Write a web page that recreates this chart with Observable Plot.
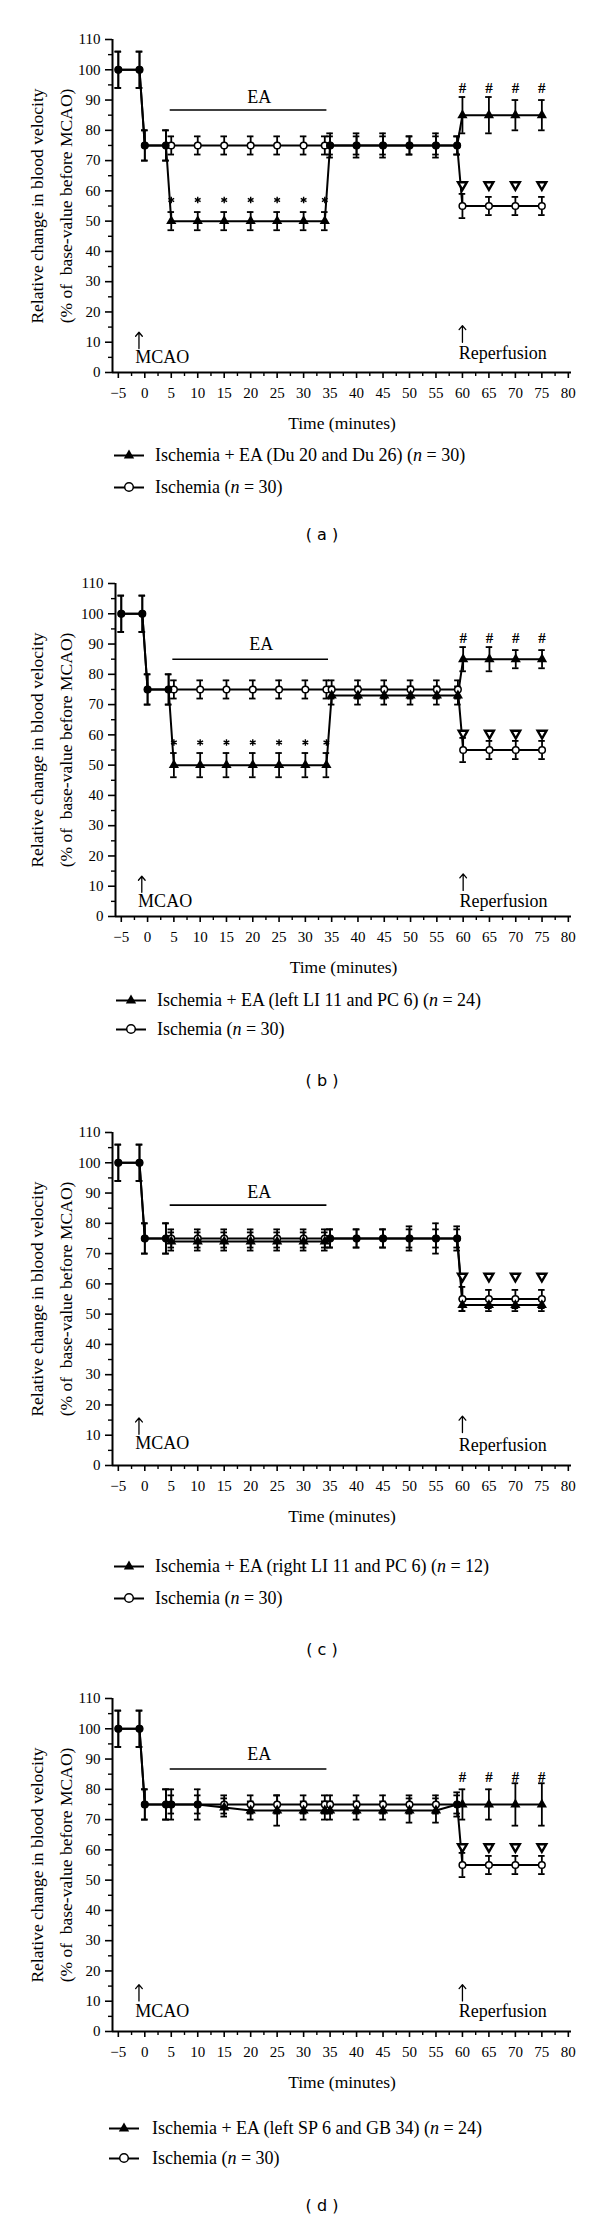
<!DOCTYPE html>
<html><head><meta charset="utf-8">
<script src="https://cdn.jsdelivr.net/npm/d3@7"></script>
<script src="https://cdn.jsdelivr.net/npm/@observablehq/plot@0.6"></script>
<style>
html,body{margin:0;padding:0;background:#fff;}
#root{position:relative;width:600px;height:2233px;overflow:hidden;font-family:"Liberation Serif","Times New Roman",serif;color:#000;}
.plot{position:absolute;left:0;}
.leg{position:absolute;height:20px;display:flex;align-items:center;font-size:18px;white-space:nowrap;line-height:1;}
.leg svg{display:block;}
.leg span{position:absolute;top:0;line-height:20px;}
.cap{position:absolute;width:120px;text-align:center;font-family:"DejaVu Sans",Verdana,sans-serif;font-size:16px;line-height:20px;}
</style></head><body><div id="root"></div>
<script>
// ---- data ----
const times = [-5,-1,0,4,5,10,15,20,25,30,34,35,40,45,50,55,59,60,65,70,75];
const ischemiaMean = [100,100,75,75,75,75,75,75,75,75,75,75,75,75,75,75,75,55,55,55,55];
const ischemiaSem  = [6,6,5,5,3,3,3,3,3,3,3,3,3,3,3,3,3,4,3,3,3];
const eaMeanA = [100,100,75,75,50,50,50,50,50,50,50,75,75,75,75,75,75,85,85,85,85];
const eaSemA  = [6,6,5,5,3,3,3,3,3,3,3,4,4,4,3,4,3,6,6,5,5];
const eaMeanB = [100,100,75,75,50,50,50,50,50,50,50,73,73,73,73,73,73,85,85,85,85];
const eaSemB  = [6,6,5,5,4,4,4,4,4,4,4,3,3,3,3,3,3,4,4,3,3];
const eaMeanC = [100,100,75,75,74,74,74,74,74,74,74,75,75,75,75,75,75,53,53,53,53];
const eaSemC  = [6,6,5,5,3,3,3,3,3,3,3,3,3,3,4,5,4,2,2,2,2];
const eaMeanD = [100,100,75,75,75,75,74,73,73,73,73,73,73,73,73,73,75,75,75,75,75];
const eaSemD  = [6,6,5,5,5,5,3,3,5,3,3,3,3,3,4,4,4,5,5,7,7];
const eaGroups = ["Du 20 and Du 26","left LI 11 and PC 6","right LI 11 and PC 6","left SP 6 and GB 34"];
const eaN = [30, 24, 12, 24];
const ischemiaN = 30;
const captions = ["( a )","( b )","( c )","( d )"];
const starTimes = [5,10,15,20,25,30,34];
const reperfusionTimes = [60,65,70,75];
const starLevel  = [57, 57.5, null, null];
const hashLevel  = [94, 92, null, 84];
const nablaLevel = [62, 60.5, 62.5, 61];
const eaPeriod = [4.8, 34.4];
const eaPeriodLevel = [86.7, 85, 86, 86.7];
const eaLabelLevel = [91, 90, 90.2, 91.5];
const mcaoTime = -1.1, reperfusionTime = 60;
const mcaoArrow = [[7.9,13.3],[8,13.3],[10.3,15.7],[10.1,15.5]];
const mcaoLabel = [4.9, 5, 7.4, 6.7];
const repArrow = [[10,15.5],[8.6,14.1],[10.9,16.3],[10.1,15.5]];
const repLabel = [6.4, 5.2, 6.8, 6.7];
const xTicks = d3.range(-5, 81, 5);
const xMinor = d3.range(-2.5, 80, 5);
const yTicks = d3.range(0, 111, 10);
const yMinor = d3.range(5, 110, 10);
const xDomain = [-6.1, 80.6];

const series = [[eaMeanA,eaSemA],[eaMeanB,eaSemB],[eaMeanC,eaSemC],[eaMeanD,eaSemD]];

// ---- layout ----
const layouts = [
  {top: 39,   left: 112, legY: [455, 487],   legX: 114, capY: 535},
  {top: 583,  left: 115, legY: [1000, 1029], legX: 116, capY: 1081},
  {top: 1132, left: 112, legY: [1566, 1598], legX: 114, capY: 1650},
  {top: 1698, left: 112, legY: [2128, 2158], legX: 109, capY: 2206}
];
const MT = 14, PH = 333, MB = 70, MR = 29;
const root = document.getElementById("root");
const capHalf = 0.62;

function errorBars(data, sw) {
  return [
    Plot.ruleX(data, {x: "t", y1: d => d.v - d.e, y2: d => d.v + d.e, strokeWidth: sw}),
    Plot.ruleY(data, {y: d => d.v + d.e, x1: d => d.t - capHalf, x2: d => d.t + capHalf, strokeWidth: sw}),
    Plot.ruleY(data, {y: d => d.v - d.e, x1: d => d.t - capHalf, x2: d => d.t + capHalf, strokeWidth: sw})
  ];
}

series.forEach(([mean, sem], k) => {
  const L = layouts[k];
  const isc = times.map((t, i) => ({t, v: ischemiaMean[i], e: ischemiaSem[i]}));
  const ea = times.map((t, i) => ({t, v: mean[i], e: sem[i], same: mean[i] === ischemiaMean[i]}));
  const marks = [
    Plot.ruleY([0], {x1: xDomain[0], x2: xDomain[1], strokeWidth: 2}),
    Plot.ruleX([xDomain[0]], {y1: 0, y2: 110, strokeWidth: 2}),
    Plot.axisY({ticks: yTicks, tickSize: 7, tickPadding: 5, strokeWidth: 1.6, fontSize: 15, label: null}),
    Plot.axisY({ticks: yMinor, tickSize: 4, tickFormat: () => "", strokeWidth: 1.4, label: null}),
    Plot.axisX({ticks: xTicks, tickSize: 6, tickPadding: 9, strokeWidth: 1.6, fontSize: 15, label: null}),
    Plot.axisX({ticks: xMinor, tickSize: 4, tickFormat: () => "", strokeWidth: 1.4, label: null}),
    Plot.text(["Time (minutes)"], {text: d => d, frameAnchor: "bottom", textAnchor: "middle", lineAnchor: "middle", dy: 51, fontSize: 17.5}),
    Plot.text(["Relative change in blood velocity\n(% of  base-value before MCAO)"], {text: d => d, frameAnchor: "left", textAnchor: "middle", lineAnchor: "middle", rotate: -90, dx: -L.left + 48, lineHeight: 1.62, fontSize: 17.5}),
    // EA period
    Plot.ruleY([eaPeriodLevel[k]], {x1: eaPeriod[0], x2: eaPeriod[1], strokeWidth: 1.6}),
    Plot.text(["EA"], {text: d => d, x: (eaPeriod[0] + eaPeriod[1]) / 2 + 2, y: eaLabelLevel[k], fontSize: 18}),
    // MCAO / reperfusion
    Plot.arrow([0], {x1: mcaoTime, x2: mcaoTime, y1: mcaoArrow[k][0], y2: mcaoArrow[k][1], headLength: 6, headAngle: 80, strokeWidth: 1.3}),
    Plot.text(["MCAO"], {text: d => d, x: mcaoTime - 0.7, y: mcaoLabel[k], textAnchor: "start", fontSize: 18}),
    Plot.arrow([0], {x1: reperfusionTime, x2: reperfusionTime, y1: repArrow[k][0], y2: repArrow[k][1], headLength: 6, headAngle: 80, strokeWidth: 1.3}),
    Plot.text(["Reperfusion"], {text: d => d, x: reperfusionTime - 0.7, y: repLabel[k], textAnchor: "start", fontSize: 18}),
    // lines
    Plot.line(isc, {x: "t", y: "v", strokeWidth: 2}),
    Plot.line(ea, {x: "t", y: "v", strokeWidth: 2}),
    ...errorBars(isc, 1.8),
    ...errorBars(ea, 1.8),
    Plot.dot(isc, {x: "t", y: "v", r: 3.3, fill: "white", stroke: "black", strokeWidth: 1.5}),
    Plot.dot(ea.filter(d => d.same), {x: "t", y: "v", r: 3.7, fill: "black"}),
    Plot.dot(ea.filter(d => !d.same), {x: "t", y: "v", symbol: "triangle", r: 3.8, fill: "black"}),
    Plot.dot(reperfusionTimes, {x: d => d, y: () => nablaLevel[k], symbol: "triangle", rotate: 180, r: 3.3, fill: "white", stroke: "black", strokeWidth: 2.4})
  ];
  if (starLevel[k] != null) marks.push(Plot.dot(starTimes, {x: d => d, y: () => starLevel[k], symbol: "asterisk", r: 3.1, stroke: "black", strokeWidth: 1.4}));
  if (hashLevel[k] != null) marks.push(Plot.text(reperfusionTimes, {x: d => d, y: () => hashLevel[k], text: () => "#", fontSize: 15, fontWeight: "bold"}));

  const svg = Plot.plot({
    width: 600, height: MT + PH + MB,
    marginTop: MT, marginBottom: MB, marginLeft: L.left, marginRight: MR,
    x: {domain: xDomain},
    y: {domain: [0, 110]},
    style: {fontFamily: '"Liberation Serif","Times New Roman",serif', fontSize: "15px", color: "black", background: "transparent", overflow: "visible"},
    marks
  });
  svg.classList.add("plot");
  svg.style.top = (L.top - MT) + "px";
  svg.style.position = "absolute";
  root.appendChild(svg);

  // legend
  const rows = [
    {sym: "tri", html: `Ischemia + EA (${eaGroups[k]}) (<i>n</i> = ${eaN[k]})`},
    {sym: "circ", html: `Ischemia (<i>n</i> = ${ischemiaN})`}
  ];
  rows.forEach((r, j) => {
    const div = document.createElement("div");
    div.className = "leg";
    div.style.left = L.legX + "px";
    div.style.top = (L.legY[j] - 10) + "px";
    const mk = r.sym === "tri"
      ? `<path d="M15,4.5 L20.2,13.5 L9.8,13.5 Z" fill="black"/>`
      : `<circle cx="15" cy="10" r="4.3" fill="white" stroke="black" stroke-width="1.5"/>`;
    div.innerHTML = `<svg width="32" height="20"><line x1="0" y1="10.5" x2="30" y2="10.5" stroke="black" stroke-width="2"/>${mk}</svg><span style="left:${41 + (k === 3 ? 2 : 0)}px">${r.html}</span>`;
    root.appendChild(div);
  });
  const cap = document.createElement("div");
  cap.className = "cap";
  cap.style.left = (322 - 60) + "px";
  cap.style.top = (L.capY - 10) + "px";
  cap.textContent = captions[k];
  root.appendChild(cap);
});
</script></body></html>
